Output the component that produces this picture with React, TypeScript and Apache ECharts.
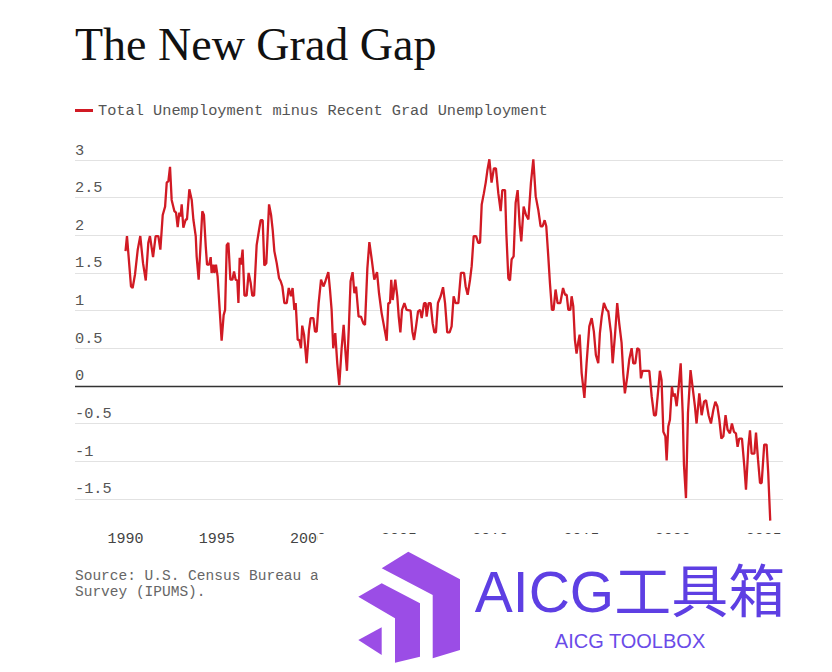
import React, { useEffect, useRef } from "react";
import * as echarts from "echarts";

const TITLE = "The New Grad Gap";
const SERIES_NAME = "Total Unemployment minus Recent Grad Unemployment";
const SOURCE_LINES = ["Source: U.S. Census Bureau and", "Survey (IPUMS)."];
const xTicks = [1990, 1995, 2000, 2005, 2010, 2015, 2020, 2025];
const yTicks = [3, 2.5, 2, 1.5, 1, 0.5, 0, -0.5, -1, -1.5];

const dates = [
  1990.00, 1990.08, 1990.30, 1990.39, 1990.52, 1990.67, 1990.81, 1990.96, 1991.11, 1991.25,
  1991.34, 1991.51, 1991.65, 1991.80, 1991.91, 1992.04, 1992.17, 1992.26, 1992.35, 1992.44,
  1992.53, 1992.68, 1992.77, 1992.86, 1992.95, 1993.02, 1993.08, 1993.17, 1993.30, 1993.37,
  1993.50, 1993.63, 1993.72, 1993.85, 1993.90, 1994.01, 1994.10, 1994.21, 1994.30, 1994.40,
  1994.47, 1994.58, 1994.67, 1994.72, 1994.82, 1994.87, 1994.96, 1995.05, 1995.14, 1995.27,
  1995.38, 1995.46, 1995.55, 1995.64, 1995.75, 1995.86, 1995.95, 1996.04, 1996.13, 1996.19,
  1996.26, 1996.33, 1996.42, 1996.52, 1996.64, 1996.75, 1996.86, 1996.95, 1997.05, 1997.19,
  1997.32, 1997.41, 1997.52, 1997.61, 1997.72, 1997.79, 1997.87, 1997.98, 1998.07, 1998.16,
  1998.29, 1998.42, 1998.51, 1998.60, 1998.71,
  1998.84, 1998.95, 1999.07, 1999.16, 1999.26, 1999.33, 1999.44, 1999.53, 1999.62, 1999.69,
  1999.79, 1999.93, 2000.06, 2000.15, 2000.30, 2000.39, 2000.48, 2000.59, 2000.72, 2000.85,
  2000.96, 2001.12, 2001.21, 2001.30, 2001.39, 2001.50, 2001.61, 2001.72, 2001.85, 2001.96,
  2002.05, 2002.14, 2002.24, 2002.34, 2002.45, 2002.55, 2002.64, 2002.78, 2002.91, 2003.04,
  2003.13, 2003.26, 2003.37, 2003.50, 2003.64, 2003.79, 2003.90, 2004.04, 2004.19, 2004.32,
  2004.41, 2004.50, 2004.57, 2004.65, 2004.79, 2004.90, 2004.98, 2005.07, 2005.16, 2005.29,
  2005.41, 2005.63, 2005.73, 2005.82, 2005.93, 2006.04, 2006.15, 2006.24, 2006.37, 2006.46,
  2006.51, 2006.62, 2006.73, 2006.84, 2006.93, 2007.02, 2007.13, 2007.28, 2007.41, 2007.52,
  2007.64,
  2007.77, 2007.88, 2007.99, 2008.10, 2008.25, 2008.39, 2008.56, 2008.65, 2008.76, 2008.89,
  2008.98, 2009.09, 2009.22, 2009.34, 2009.44, 2009.53, 2009.65, 2009.75, 2009.84, 2009.95,
  2010.07, 2010.20, 2010.31, 2010.44, 2010.57, 2010.66, 2010.81, 2010.88, 2010.99, 2011.08,
  2011.17, 2011.28, 2011.39, 2011.50, 2011.61, 2011.70, 2011.83, 2011.96, 2012.09, 2012.23,
  2012.36, 2012.49, 2012.63, 2012.76, 2012.87, 2012.98, 2013.07, 2013.18, 2013.27, 2013.38,
  2013.47, 2013.58, 2013.69, 2013.84, 2013.99, 2014.10, 2014.19, 2014.28, 2014.39, 2014.46,
  2014.55, 2014.64, 2014.73, 2014.83, 2014.90, 2015.01, 2015.16, 2015.28, 2015.43, 2015.56,
  2015.68, 2015.79, 2015.92, 2016.01, 2016.11,
  2016.23, 2016.38, 2016.47, 2016.62, 2016.71, 2016.84, 2016.96, 2017.07, 2017.20, 2017.29,
  2017.38, 2017.51, 2017.62, 2017.75, 2017.84, 2017.95, 2018.06, 2018.17, 2018.26, 2018.35,
  2018.57, 2018.72, 2018.85, 2018.98, 2019.08, 2019.21, 2019.30, 2019.39, 2019.49, 2019.60,
  2019.67, 2019.76, 2019.85, 2019.96, 2020.03, 2020.11, 2020.22, 2020.33, 2020.44, 2020.55,
  2020.62, 2020.73, 2020.84, 2020.98, 2021.09, 2021.22, 2021.31, 2021.46, 2021.59, 2021.72,
  2021.83, 2021.97, 2022.10, 2022.23, 2022.34, 2022.45, 2022.56, 2022.67, 2022.78, 2022.90,
  2023.01, 2023.14, 2023.25, 2023.36, 2023.47, 2023.56, 2023.65, 2023.80, 2023.93, 2024.02,
  2024.15, 2024.24, 2024.33, 2024.48, 2024.57, 2024.68, 2024.79, 2024.88, 2025.02, 2025.15,
  2025.24, 2025.35,
];

const gap = [
  1.79, 1.99, 1.32, 1.30, 1.48, 1.81, 1.99, 1.63, 1.40, 1.90,
  1.99, 1.71, 1.99, 1.99, 1.81, 2.27, 2.38, 2.70, 2.72, 2.91,
  2.47, 2.32, 2.30, 2.11, 2.30, 2.25, 2.41, 2.10, 2.21, 2.21,
  2.61, 2.47, 2.21, 1.99, 1.72, 1.41, 1.81, 2.32, 2.27, 1.85,
  1.61, 1.61, 1.71, 1.50, 1.61, 1.50, 1.61, 1.45, 1.10, 0.60,
  0.94, 1.01, 1.87, 1.90, 1.41, 1.41, 1.52, 1.41, 1.40, 1.10,
  1.70, 1.61, 1.81, 1.20, 1.20, 1.50, 1.37, 1.20, 1.20, 1.87,
  2.07, 2.20, 2.20, 1.60, 1.63, 1.99, 2.41, 2.27, 2.07, 1.79,
  1.63, 1.43, 1.39, 1.32, 1.10,
  1.10, 1.30, 1.19, 1.30, 1.01, 1.10, 0.61, 0.61, 0.50, 0.80,
  0.68, 0.30, 0.74, 0.90, 0.90, 0.72, 0.72, 1.10, 1.41, 1.32,
  1.39, 1.51, 1.28, 1.01, 0.50, 0.70, 0.30, 0.01, 0.50, 0.81,
  0.48, 0.20, 0.74, 1.39, 1.51, 1.23, 1.32, 0.92, 0.92, 0.83,
  0.81, 1.56, 1.91, 1.68, 1.41, 1.51, 1.23, 0.97, 0.77, 0.60,
  1.10, 1.10, 1.41, 1.14, 1.41, 1.19, 0.92, 0.71, 1.01, 1.10,
  1.01, 1.00, 0.72, 0.61, 0.79, 0.99, 1.01, 0.90, 1.10, 1.10,
  0.92, 1.10, 1.10, 0.83, 0.71, 0.71, 1.10, 1.19, 1.31, 1.10,
  0.71,
  0.71, 0.79, 1.19, 1.10, 1.10, 1.50, 1.50, 1.32, 1.21, 1.41,
  1.59, 1.99, 1.99, 1.90, 1.90, 2.41, 2.56, 2.70, 2.86, 3.01,
  2.70, 2.89, 2.89, 2.56, 2.32, 2.60, 2.60, 2.03, 1.43, 1.40,
  1.68, 1.72, 2.43, 2.60, 2.14, 1.92, 2.38, 2.27, 2.21, 2.70,
  3.01, 2.52, 2.34, 2.12, 2.12, 2.20, 2.12, 1.72, 1.37, 1.01,
  1.01, 1.28, 1.10, 1.10, 1.30, 1.21, 1.21, 1.01, 1.01, 1.19,
  1.06, 0.61, 0.43, 0.59, 0.68, 0.17, -0.16, 0.30, 0.79, 0.90,
  0.72, 0.41, 0.30, 0.70, 0.92,
  1.10, 1.01, 0.99, 0.70, 0.30, 0.68, 1.10, 0.83, 0.57, 0.17,
  -0.10, 0.12, 0.35, 0.50, 0.30, 0.30, 0.50, 0.48, 0.10, 0.20,
  0.20, 0.20, -0.14, -0.39, -0.39, -0.05, 0.20, 0.08, -0.61, -0.67,
  -0.99, -0.54, -0.45, -0.01, -0.14, -0.10, -0.27, -0.01, 0.30, -0.36,
  -1.05, -1.49, -0.36, 0.21, -0.01, -0.27, -0.50, -0.10, -0.39, -0.21,
  -0.19, -0.39, -0.50, -0.32, -0.21, -0.27, -0.45, -0.70, -0.67, -0.39,
  -0.58, -0.63, -0.50, -0.61, -0.63, -0.81, -0.70, -0.70, -1.07, -1.38,
  -0.81, -0.59, -0.90, -0.90, -0.62, -0.98, -1.29, -1.29, -0.78, -0.78,
  -1.16, -1.79,
];

const MONO = "'Liberation Mono', 'DejaVu Sans Mono', monospace";
const SERIF = "'Liberation Serif', 'DejaVu Serif', serif";

export default function App() {
  const ref = useRef<HTMLDivElement>(null);
  useEffect(() => {
    if (!ref.current) return;
    const chart = echarts.init(ref.current, null, { renderer: "svg" });
    const seriesData = dates.map((d, i) => [d, gap[i]]);
    const gridLines = yTicks.map((v) => ({
      yAxis: v,
      lineStyle: v === 0 ? { color: "#333", width: 1.3, type: "solid" } : { color: "#e2e2e2", width: 1, type: "solid" },
    }));
    chart.setOption({
      animation: false,
      backgroundColor: "#ffffff",
      grid: { left: 75, right: 49, top: 160, bottom: 150.6, containLabel: false },
      legend: {
        left: 75,
        top: 103,
        padding: 0,
        icon: "rect",
        itemWidth: 18,
        itemHeight: 3,
        textStyle: { fontFamily: MONO, fontSize: 15.3, color: "#555" },
        data: [SERIES_NAME],
      },
      xAxis: {
        type: "value",
        min: 1987.23,
        max: 2026.05,
        axisLine: { show: false },
        axisTick: { show: false },
        splitLine: { show: false },
        axisLabel: {
          customValues: xTicks,
          formatter: (v: number) => String(Math.round(v)),
          fontFamily: MONO,
          fontSize: 15,
          color: "#444",
          margin: 11,
        },
      },
      yAxis: {
        type: "value",
        min: -1.8,
        max: 3,
        axisLine: { show: false },
        axisTick: { show: false },
        splitLine: { show: false },
        axisLabel: {
          customValues: yTicks,
          inside: true,
          margin: 0,
          verticalAlign: "bottom",
          padding: [0, 0, 2, 0],
          fontFamily: MONO,
          fontSize: 15.3,
          color: "#555",
          formatter: (v: number) => String(v),
        },
      },
      series: [
        {
          name: SERIES_NAME,
          type: "line",
          data: seriesData,
          showSymbol: false,
          symbol: "none",
          color: "#d11a24",
          lineStyle: { color: "#d11a24", width: 2.3 },
          z: 3,
          markLine: {
            silent: true,
            symbol: "none",
            label: { show: false },
            z: 1,
            data: gridLines,
          },
        },
      ],
      graphic: [
        {
          type: "text",
          left: 75,
          top: 21,
          style: { text: TITLE, font: `normal 46px ${SERIF}`, fill: "#111" },
        },
        {
          type: "text",
          x: 75,
          y: 576,
          style: { text: SOURCE_LINES[0], font: `14.5px ${MONO}`, fill: "#666", textVerticalAlign: "middle" },
        },
        {
          type: "text",
          x: 75,
          y: 592,
          style: { text: SOURCE_LINES[1], font: `14.5px ${MONO}`, fill: "#666", textVerticalAlign: "middle" },
        },
        {
          type: "rect",
          shape: { x: 318, y: 534, width: 500, height: 138 },
          style: { fill: "#ffffff", opacity: 1 },
          z: 100,
        },
        {
          type: "polygon",
          shape: { points: [[381.7, 568.3], [408.3, 551.7], [460, 579.3], [460, 650], [432.7, 658.3], [432.7, 595]] },
          style: { fill: "#9b4de6" },
          z: 101,
        },
        {
          type: "polygon",
          shape: { points: [[358.3, 596.7], [381.7, 583.3], [420, 603.3], [420, 656.7], [395, 662.7], [395, 618.3]] },
          style: { fill: "#9b4de6" },
          z: 101,
        },
        {
          type: "polygon",
          shape: { points: [[358.3, 640], [381.7, 627.3], [381.7, 655]] },
          style: { fill: "#9b4de6" },
          z: 101,
        },
        {
          type: "text",
          x: 630,
          y: 592,
          style: {
            text: "AICG工具箱",
            font: "57px 'Liberation Sans', 'Noto Sans CJK SC', sans-serif",
            fill: "#5e3fe3",
            textAlign: "center",
            textVerticalAlign: "middle",
          },
          z: 102,
        },
        {
          type: "text",
          x: 630,
          y: 641,
          style: {
            text: "AICG TOOLBOX",
            font: "20px 'Liberation Sans', sans-serif",
            fill: "#6a4be8",
            textAlign: "center",
            textVerticalAlign: "middle",
          },
          z: 102,
        },
      ],
    });
    return () => chart.dispose();
  }, []);
  return (
    <div
      ref={ref}
      style={{ position: "fixed", left: 0, top: 0, width: 832, height: 672, background: "#fff" }}
    />
  );
}
